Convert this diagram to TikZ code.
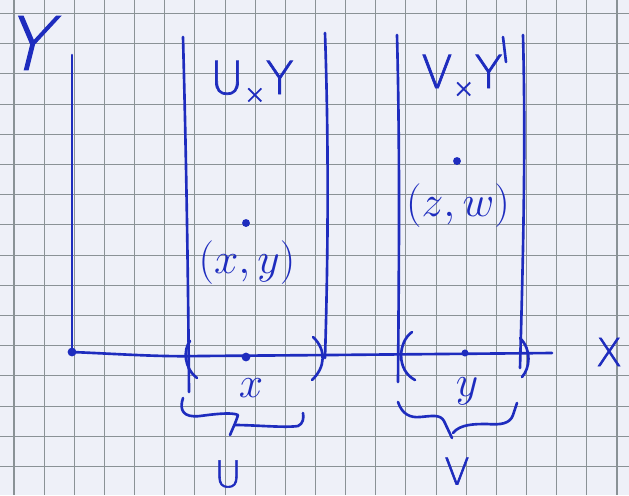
\documentclass[tikz,border=0pt]{standalone}
\usepackage{fontspec}
\newfontfamily\penfont[FakeBold=1.6]{DejaVu Sans ExtraLight}
\definecolor{paper}{RGB}{238,240,248}
\definecolor{gridc}{RGB}{138,146,150}
\definecolor{pen}{RGB}{30,44,190}
\begin{document}
\begin{tikzpicture}[x=0.02cm,y=-0.02cm,
  stroke/.style={draw=pen,line width=1.5pt,line cap=round,line join=round},
  gridline/.style={draw=gridc,line width=0.6pt},
  lbl/.style={text=pen,inner sep=0pt},
  capl/.style={lbl,font=\penfont\fontsize{#1}{#1}\selectfont},
  lowtxt/.style={lbl,font=\fontsize{#1}{#1}\selectfont},
  dot/.style={circle,fill=pen,inner sep=0pt,minimum size=#1}]
% squared paper
\fill[paper] (0,0) rectangle (629,495);
\useasboundingbox (0,0) rectangle (629,495);
\foreach \i in {0,...,20} \draw[gridline] ({14+30.15*\i},0) -- ({14+30.15*\i},495);
\foreach \j in {0,...,15} \draw[gridline] (0,{13.5+30.2*\j}) -- (629,{13.5+30.2*\j});

% axes
\coordinate (O) at (72,352);
\coordinate (ytop) at (72,55);
\coordinate (xend) at (552,353);
\draw[stroke] (ytop) -- (O);
\draw[stroke] (O) .. controls (120,354) and (160,357) .. (200,356) -- (330,355) -- (xend);
\node[dot=5pt] (o) at (O) {};
\begin{scope}[shift={(33,43)}]
  \node[capl=42pt,transform shape,xslant=0.25] (Ylab) at (0,0) {Y};
\end{scope}
\node[capl=22pt] (Xlab) at (609,352) {X};

% strip U x Y
\coordinate (ul1) at (183,37); \coordinate (ul2) at (189,392);
\coordinate (ur1) at (325,33); \coordinate (ur2) at (325,358);
\draw[stroke] (ul1) .. controls (186,150) and (188,260) .. (ul2);
\draw[stroke] (ur1) .. controls (329,150) and (328,260) .. (ur2);
\draw[stroke] (190,341) .. controls (183,350) and (184,368) .. (197,378);
\draw[stroke] (313,337) .. controls (327,350) and (325,368) .. (312,380);
\node[capl=26pt] (UY) at (252,82) {U\raisebox{-0.2em}{\fontsize{15pt}{15pt}\selectfont ×}Y};
\node[dot=4.5pt] (pxy) at (246,223) {};
\node[lowtxt=23pt] (lxy) at (247,263) {$(x,y)$};
\node[dot=5pt] (px) at (246,357) {};
\node[lowtxt=24pt] (lx) at (251,388) {$x$};
\draw[stroke] (183,398) .. controls (179,410) and (183,418) .. (200,416)
  .. controls (215,414) and (232,412) .. (238,415) .. controls (236,422) and (232,430) .. (230,435);
\draw[stroke] (235,425) .. controls (255,425) and (285,428) .. (298,426) .. controls (303,424) and (304,418) .. (303,413);
\node[capl=21pt] (U) at (228,474) {U};

% strip V x Y
\coordinate (vl1) at (397,35); \coordinate (vl2) at (398,382);
\coordinate (vr1) at (523,35); \coordinate (vr2) at (520,368);
\draw[stroke] (vl1) .. controls (400,150) and (399,260) .. (vl2);
\draw[stroke] (vr1) .. controls (526,150) and (523,260) .. (vr2);
\draw[stroke] (412,332) .. controls (398,342) and (396,370) .. (415,380);
\draw[stroke] (520,338) .. controls (532,350) and (530,368) .. (522,377);
\node[capl=26pt] (VY) at (462,76) {V\raisebox{-0.2em}{\fontsize{15pt}{15pt}\selectfont ×}Y};
\draw[stroke] (503,37) -- (506,62);
\node[dot=4.5pt] (pzw) at (457,161) {};
\node[lowtxt=23pt] (lzw) at (458,206) {$(z,w)$};
\node[dot=4pt] (py) at (465,353) {};
\node[lowtxt=24pt] (ly) at (467,391) {$y$};
\draw[stroke] (398,402) .. controls (402,414) and (410,418) .. (420,417)
  .. controls (432,416) and (440,414) .. (444,421) -- (452,438);
\draw[stroke] (453,433) .. controls (460,424) and (475,424) .. (487,424)
  .. controls (500,425) and (510,424) .. (513,415) -- (517,403);
\node[capl=21pt] (V) at (457,471) {V};
\end{tikzpicture}
\end{document}
